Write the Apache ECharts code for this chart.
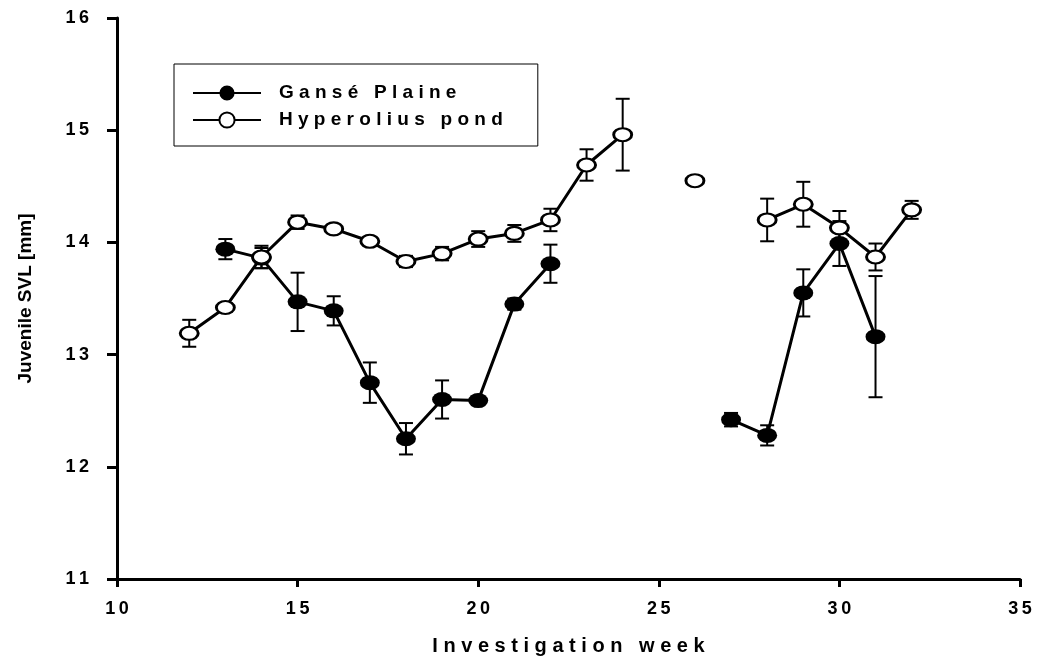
<!DOCTYPE html>
<html>
<head>
<meta charset="utf-8">
<script src="https://cdn.jsdelivr.net/npm/echarts@6/dist/echarts.min.js"></script>
<style>
  html, body { margin: 0; padding: 0; background: #fff; }
  #chart { width: 1041px; height: 661px; }
</style>
</head>
<body>
<div id="chart"></div>
<script>
// Investigation weeks sampled
const weeks = [12, 13, 14, 15, 16, 17, 18, 19, 20, 21, 22, 23, 24, 25, 26, 27, 28, 29, 30, 31, 32];

// Gansé Plaine: mean juvenile SVL (mm) and error (mm); null = no sample
const ganseMean = [null, 13.94, 13.86, 13.47, 13.39, 12.75, 12.25, 12.60, 12.59, 13.45, 13.81, null, null, null, null, 12.42, 12.28, 13.55, 13.99, 13.16, null];
const ganseErr  = [null, 0.09, 0.09, 0.26, 0.13, 0.18, 0.14, 0.17, 0.02, 0.05, 0.17, null, null, null, null, 0.06, 0.09, 0.21, 0.20, 0.54, null];

// Hyperolius pond: mean juvenile SVL (mm) and error (mm)
const hyperMean = [13.19, 13.42, 13.87, 14.18, 14.12, 14.01, 13.83, 13.90, 14.03, 14.08, 14.20, 14.69, 14.96, null, 14.55, null, 14.20, 14.34, 14.13, 13.87, 14.29];
const hyperErr  = [0.12, 0.04, 0.10, 0.06, 0.03, 0.03, 0.05, 0.06, 0.07, 0.075, 0.10, 0.14, 0.32, null, 0, null, 0.19, 0.20, 0.15, 0.12, 0.08];

const seriesNames = ['Gansé Plaine', 'Hyperolius pond'];
const xAxisTitle = 'Investigation week';
const yAxisTitle = 'Juvenile SVL [mm]';

const FONT = 'Arial, "Liberation Sans", sans-serif';
// widen text by spacing its letters
const spaced = (s, gap) => String(s).split('').join(gap || ' ');
const THIN = '\u2009';

const ellipse = 'path://M0,-1A1,1,0,1,1,0,1A1,1,0,1,1,0,-1Z';

function points(mean) {
  return weeks.map((w, i) => [w, mean[i]]);
}
function bars(mean, err) {
  const out = [];
  weeks.forEach((w, i) => {
    if (mean[i] != null && err[i]) out.push([w, mean[i] - err[i], mean[i] + err[i]]);
  });
  return out;
}

function renderErr(params, api) {
  const x = api.value(0);
  const top = api.coord([x, api.value(2)]);
  const bot = api.coord([x, api.value(1)]);
  const half = 7;
  const style = { stroke: '#000', lineWidth: 2 };
  return {
    type: 'group',
    children: [
      { type: 'line', shape: { x1: top[0], y1: top[1], x2: bot[0], y2: bot[1] }, style },
      { type: 'line', shape: { x1: top[0] - half, y1: top[1], x2: top[0] + half, y2: top[1] }, style },
      { type: 'line', shape: { x1: bot[0] - half, y1: bot[1], x2: bot[0] + half, y2: bot[1] }, style }
    ]
  };
}

const chart = echarts.init(document.getElementById('chart'), null, { renderer: 'canvas' });

chart.setOption({
  backgroundColor: '#fff',
  animation: false,
  grid: { left: 117, right: 21, top: 18, bottom: 78 },
  legend: {
    data: seriesNames,
    orient: 'vertical',
    left: 174,
    top: 64,
    padding: [19, 35, 16, 18],
    itemGap: 7,
    itemWidth: 68,
    itemHeight: 19,
    borderColor: '#000',
    borderWidth: 1,
    formatter: name => spaced(name),
    textStyle: {
      fontFamily: FONT, fontSize: 19, fontWeight: 'bold', color: '#000',
      lineHeight: 20, padding: [0, 0, 0, 13]
    }
  },
  xAxis: {
    type: 'value',
    min: 10, max: 35, interval: 5,
    name: spaced(xAxisTitle),
    nameLocation: 'middle',
    nameGap: 57,
    nameTextStyle: { fontFamily: FONT, fontSize: 20, fontWeight: 'bold', color: '#000' },
    axisLine: { onZero: false, lineStyle: { color: '#000', width: 3 } },
    axisTick: { length: 8, lineStyle: { color: '#000', width: 3 } },
    axisLabel: {
      margin: 21, fontFamily: FONT, fontSize: 18, fontWeight: 'bold', color: '#000',
      formatter: v => spaced(v, THIN)
    },
    splitLine: { show: false }
  },
  yAxis: {
    type: 'value',
    min: 11, max: 16, interval: 1,
    name: yAxisTitle,
    nameLocation: 'middle',
    nameGap: 82,
    nameTextStyle: { fontFamily: FONT, fontSize: 19, fontWeight: 'bold', color: '#000' },
    axisLine: { onZero: false, lineStyle: { color: '#000', width: 3 } },
    axisTick: { length: 10, lineStyle: { color: '#000', width: 3 } },
    axisLabel: {
      margin: 28, fontFamily: FONT, fontSize: 18, fontWeight: 'bold', color: '#000',
      formatter: v => spaced(v, THIN)
    },
    splitLine: { show: false }
  },
  series: [
    {
      type: 'custom', name: 'err-g', renderItem: renderErr, z: 1,
      encode: { x: 0, y: [1, 2] }, data: bars(ganseMean, ganseErr), silent: true
    },
    {
      type: 'custom', name: 'err-h', renderItem: renderErr, z: 1,
      encode: { x: 0, y: [1, 2] }, data: bars(hyperMean, hyperErr), silent: true
    },
    {
      type: 'line', name: seriesNames[0], z: 3,
      data: points(ganseMean),
      symbol: ellipse, symbolSize: [20, 15],
      lineStyle: { color: '#000', width: 3 },
      itemStyle: { color: '#000', borderColor: '#000', borderWidth: 0 }
    },
    {
      type: 'line', name: seriesNames[1], z: 4,
      data: points(hyperMean),
      symbol: ellipse, symbolSize: [18, 13],
      lineStyle: { color: '#000', width: 3 },
      itemStyle: { color: '#fff', borderColor: '#000', borderWidth: 2.5 }
    }
  ]
});
</script>
</body>
</html>
